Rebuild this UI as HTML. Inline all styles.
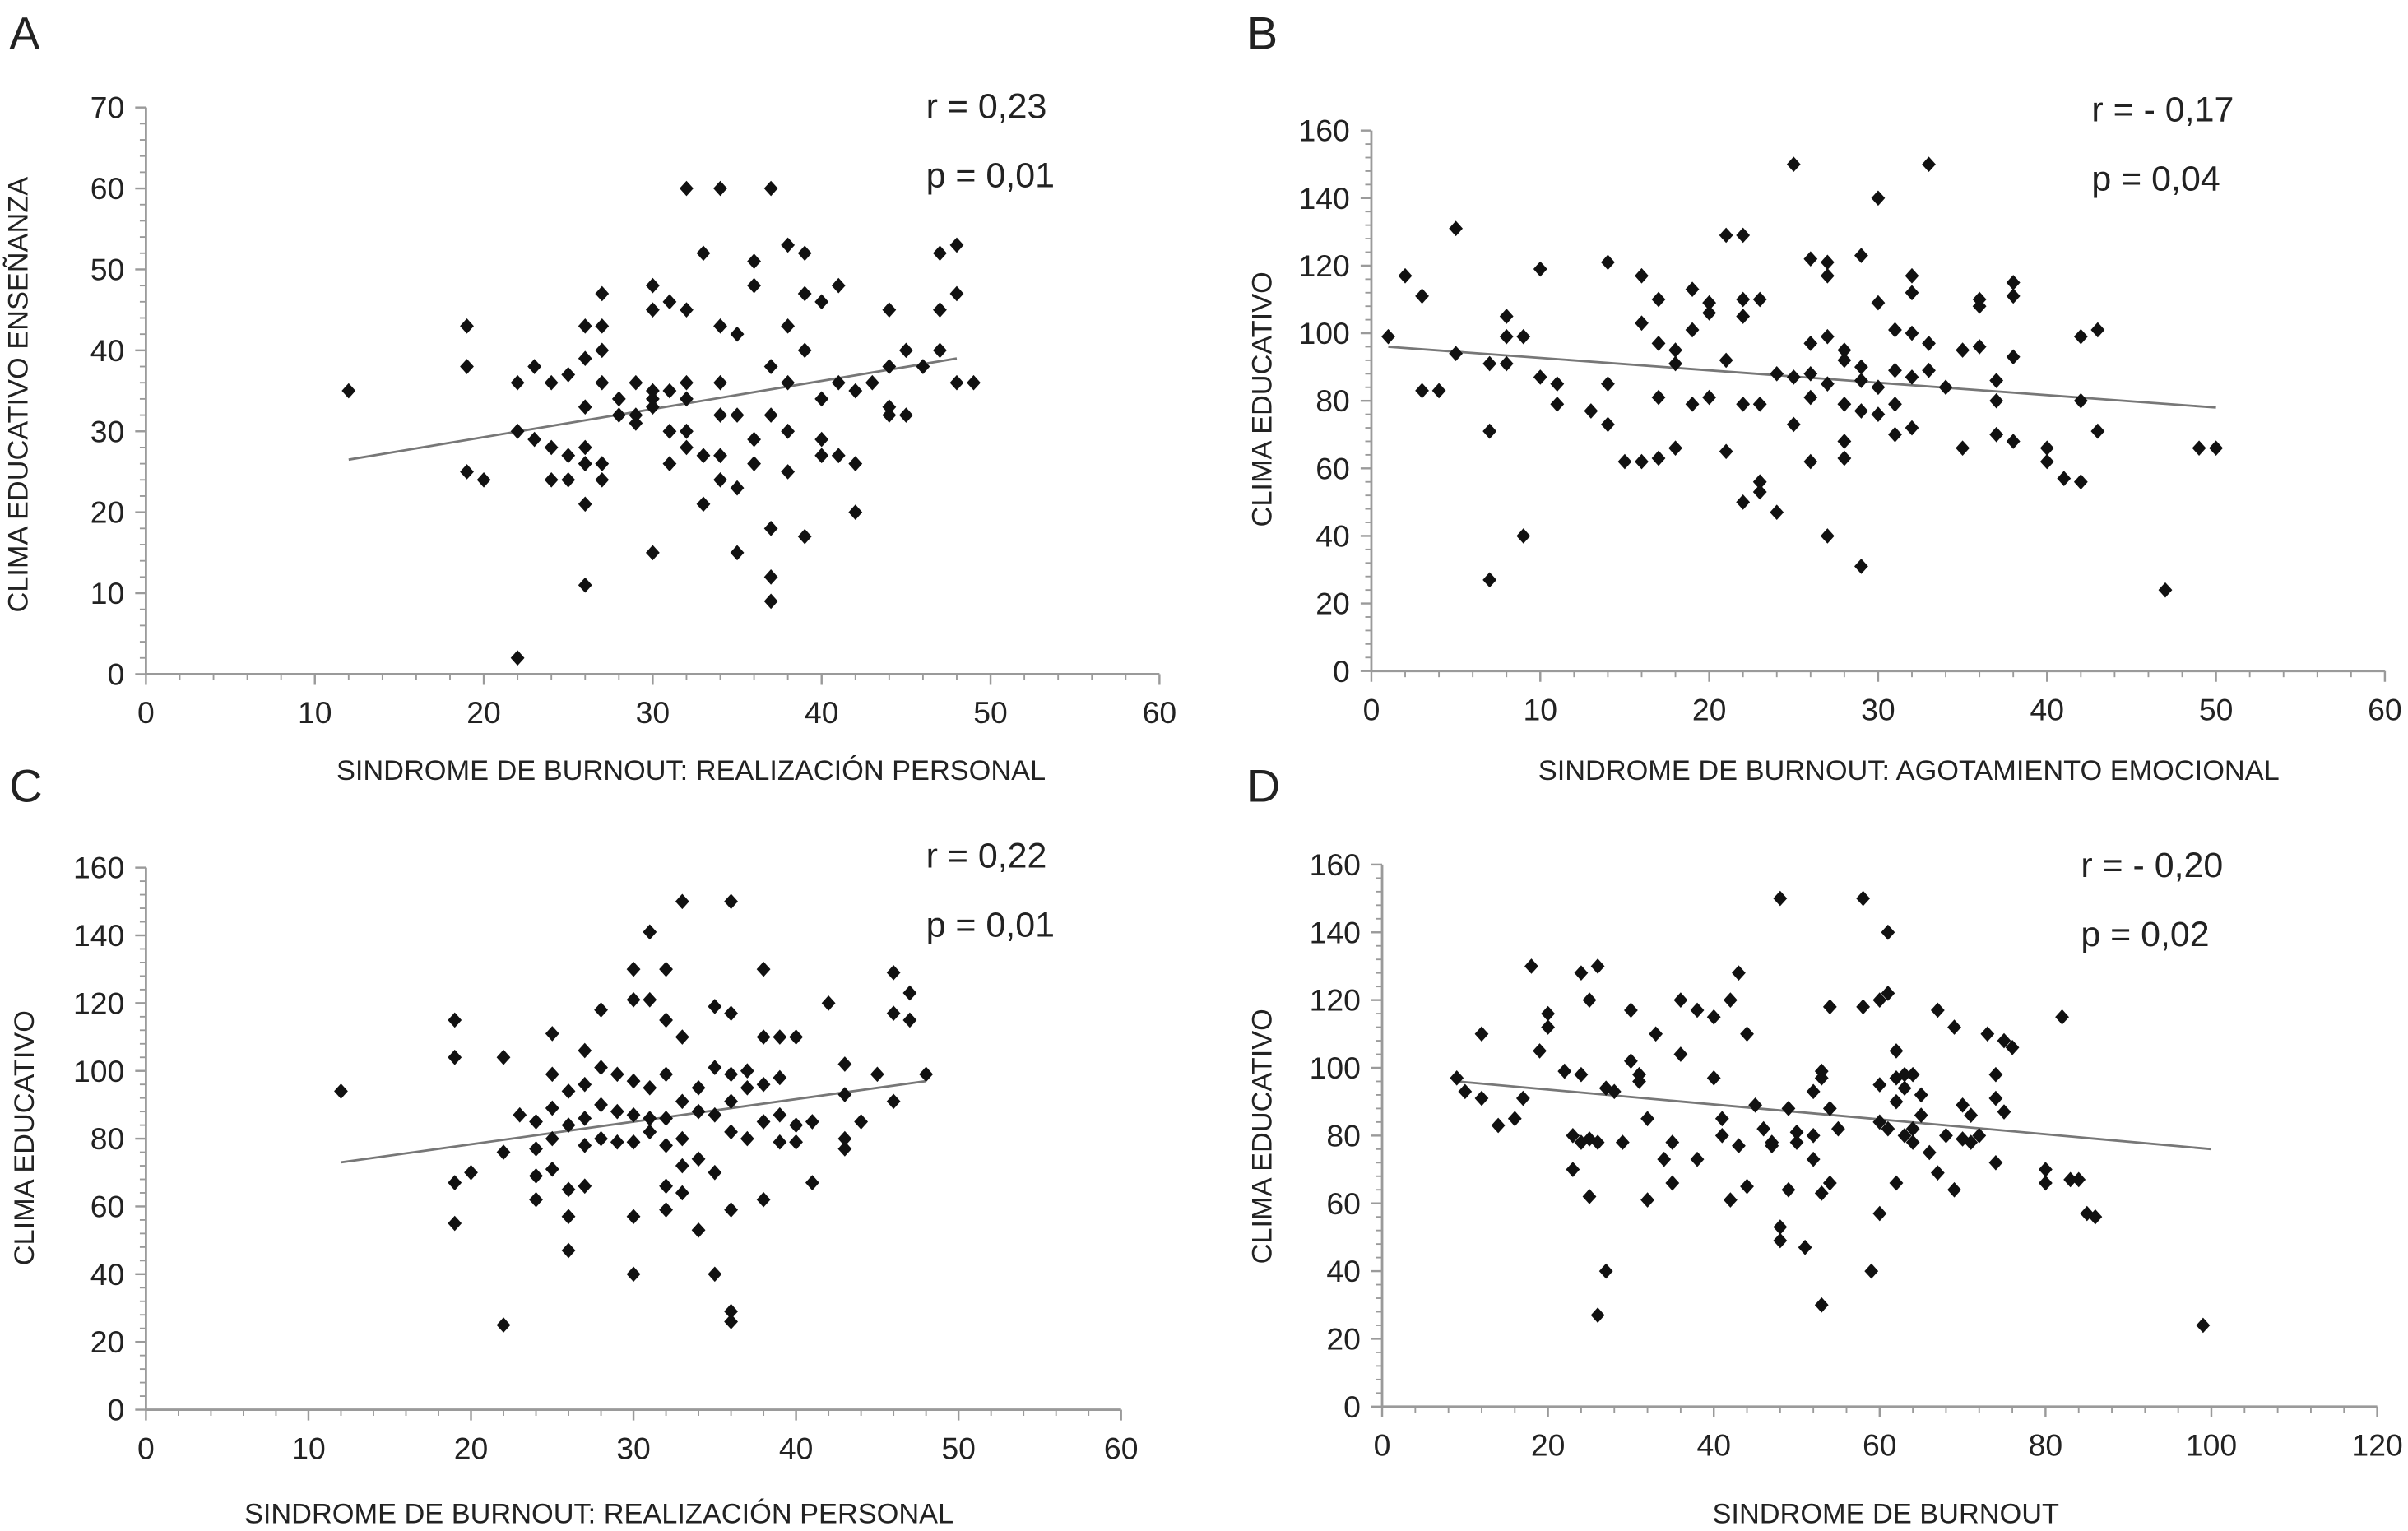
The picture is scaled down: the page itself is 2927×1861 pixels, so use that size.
<!DOCTYPE html>
<html><head><meta charset="utf-8"><style>
html,body{margin:0;padding:0;background:#fff}
svg{display:block}
text{font-family:"Liberation Sans",Arial,sans-serif;fill:#222}
</style></head><body>
<svg id="fig" width="2927" height="1861" viewBox="0 0 1568 997" xmlns="http://www.w3.org/2000/svg">
<text x="6" y="32" font-size="30">A</text>
<text x="812" y="32" font-size="30">B</text>
<text x="6" y="522" font-size="30">C</text>
<text x="812" y="522" font-size="30">D</text>
</svg>
<script>
// Panel A
const aX=[12,19,19,19,20,22,22,22,23,23,24,24,24,25,25,25,26,26,26,26,26,26,26,27,27,27,27,27,27,26,28,28,29,29,29,30,30,30,30,30,30,31,31,31,31,32,32,32,32,32,32,33,33,33,34,34,34,34,34,34,35,35,35,36,36,36,36,35,37,37,37,37,37,37,38,38,38,38,38,39,39,39,39,40,40,40,40,41,41,41,42,42,42,43,44,44,44,44,45,45,46,47,47,47,48,48,48,49];
const aY=[35,43,38,25,24,2,30,36,38,29,28,24,36,37,27,24,43,39,33,28,26,26,11,43,40,47,36,26,24,21,34,32,36,32,31,45,48,35,34,33,15,46,35,30,26,60,45,36,34,30,28,52,27,21,60,43,36,32,27,24,42,32,23,51,48,29,26,15,60,38,32,18,12,9,53,43,36,30,25,52,47,40,17,46,34,29,27,48,36,27,26,20,35,36,45,38,33,32,40,32,38,52,45,40,53,47,36,36];
const aLine=[[12,26.5],[48,39]];
const aXTicks=[0,10,20,30,40,50,60];
const aYTicks=[0,10,20,30,40,50,60,70];
// Panel B
const bX=[1,2,3,3,4,5,5,7,7,7,8,8,8,9,9,10,10,11,11,13,14,14,14,15,16,16,16,17,17,17,17,18,18,18,19,19,19,20,20,20,21,21,21,22,22,22,22,22,23,23,23,23,24,24,25,25,25,26,26,26,26,26,27,27,27,27,27,28,28,28,28,28,29,29,29,29,29,30,30,30,30,31,31,31,31,32,32,32,32,32,33,33,33,34,35,35,36,36,36,37,37,37,38,38,38,38,40,40,41,42,42,42,43,43,47,49,50];
const bY=[99,117,111,83,83,131,94,91,71,27,105,99,91,99,40,119,87,85,79,77,121,85,73,62,117,103,62,110,97,81,63,95,91,66,113,101,79,109,106,81,129,65,92,129,110,105,79,50,110,79,56,53,88,47,150,87,73,122,97,88,81,62,121,117,99,85,40,95,92,79,68,63,123,90,86,77,31,140,109,84,76,101,89,79,70,117,112,100,87,72,150,97,89,84,95,66,110,108,96,86,80,70,115,111,93,68,66,62,57,99,80,56,101,71,24,66,66];
const bLine=[[1,96],[50,78]];
const bXTicks=[0,10,20,30,40,50,60];
const bYTicks=[0,20,40,60,80,100,120,140,160];
// Panel C
const cX=[12,19,19,19,19,20,22,22,22,23,24,24,24,24,25,25,25,25,25,26,26,26,26,26,27,27,27,27,27,28,28,28,28,29,29,29,30,30,30,30,30,30,30,31,31,31,31,31,32,32,32,32,32,32,32,33,33,33,33,33,33,34,34,34,34,35,35,35,35,35,36,36,36,36,36,36,36,36,37,37,37,38,38,38,38,38,39,39,39,39,40,40,40,41,41,42,43,43,43,43,44,45,46,46,46,47,47,48];
const cY=[94,115,104,67,55,70,104,76,25,87,85,77,69,62,111,99,89,80,71,94,84,65,57,47,106,96,86,78,66,118,101,90,80,99,88,79,130,121,97,87,79,57,40,141,121,95,86,82,130,115,99,86,78,66,59,150,110,91,80,72,64,95,88,74,53,119,101,87,70,40,150,117,99,91,82,59,29,26,100,95,80,130,110,96,85,62,110,98,87,79,110,84,79,85,67,120,102,93,80,77,85,99,129,117,91,123,115,99];
const cLine=[[12,73],[48,97]];
const cXTicks=[0,10,20,30,40,50,60];
const cYTicks=[0,20,40,60,80,100,120,140,160];
// Panel D
const dX=[9,10,12,12,14,16,17,18,19,20,20,22,23,23,24,24,24,25,25,25,26,26,27,27,26,28,29,30,30,31,31,32,32,33,34,35,35,36,36,38,38,40,40,41,41,42,42,43,43,44,44,45,46,47,47,48,48,48,49,49,50,50,51,52,52,52,53,53,53,53,54,54,54,55,58,58,59,60,60,60,60,61,61,61,62,62,62,62,63,63,63,64,64,64,65,65,66,67,67,68,69,69,70,70,71,71,72,73,74,74,74,75,75,76,80,80,82,83,84,85,86,99];
const dY=[97,93,110,91,83,85,91,130,105,116,112,99,80,70,128,98,78,120,79,62,130,78,94,40,27,93,78,117,102,98,96,85,61,110,73,78,66,120,104,117,73,115,97,85,80,120,61,128,77,110,65,89,82,77,78,53,150,49,88,64,81,78,47,80,73,93,97,99,63,30,88,66,118,82,118,150,40,95,120,57,84,140,122,82,105,97,90,66,98,94,80,98,82,78,92,86,75,117,69,80,64,112,89,79,86,78,80,110,98,91,72,108,87,106,70,66,115,67,67,57,56,24];
const dLine=[[9,96],[100,76]];
const dXTicks=[0,20,40,60,80,100,120];
const dYTicks=[0,20,40,60,80,100,120,140,160];

const NS='http://www.w3.org/2000/svg';
const svg=document.getElementById('fig');
function mk(tag,attrs,parent){const e=document.createElementNS(NS,tag);for(const k in attrs)e.setAttribute(k,attrs[k]);(parent||svg).appendChild(e);return e;}

function panel(id,cfg,xs,ys,line,xt,yt){
  const g=mk('g',{});
  
  
  const xmin=xt[0],xmax=xt[xt.length-1],ymin=yt[0],ymax=yt[yt.length-1];
  const sx=v=>cfg.x0+(v-xmin)/(xmax-xmin)*(cfg.x1-cfg.x0);
  const sy=v=>cfg.y0-(v-ymin)/(ymax-ymin)*(cfg.y0-cfg.y1);
  const ax='#9a9a9a';
  const xa=mk('line',{x1:cfg.x0,y1:cfg.y0,x2:cfg.x1,y2:cfg.y0,stroke:ax,'stroke-width':1.5},g);
  
  
  const ya=mk('line',{x1:cfg.x0,y1:cfg.y0,x2:cfg.x0,y2:cfg.y1,stroke:ax,'stroke-width':1.5},g);
  
  
  for(let i=0;i<xt.length;i++){
    const px=sx(xt[i]);
    mk('line',{x1:px,y1:cfg.y0,x2:px,y2:cfg.y0+7,stroke:ax,'stroke-width':1.3},g);
    if(i<xt.length-1){const step=(xt[i+1]-xt[i])/5;for(let k=1;k<5;k++){const p=sx(xt[i]+k*step);mk('line',{x1:p,y1:cfg.y0,x2:p,y2:cfg.y0+4,stroke:ax,'stroke-width':1},g);}}
    const t=mk('text',{x:px,y:cfg.y0+32,'font-size':20,'text-anchor':'middle'},g);
    t.textContent=xt[i];
    
    
  }
  for(let i=0;i<yt.length;i++){
    const py=sy(yt[i]);
    mk('line',{x1:cfg.x0-7,y1:py,x2:cfg.x0,y2:py,stroke:ax,'stroke-width':1.3},g);
    if(i<yt.length-1){const step=(yt[i+1]-yt[i])/5;for(let k=1;k<5;k++){const p=sy(yt[i]+k*step);mk('line',{x1:cfg.x0-4,y1:p,x2:cfg.x0,y2:p,stroke:ax,'stroke-width':1},g);}}
    const t=mk('text',{x:cfg.x0-14,y:py+7,'font-size':20,'text-anchor':'end'},g);
    t.textContent=yt[i];
    
    
  }
  const rl=mk('line',{x1:sx(line[0][0]),y1:sy(line[0][1]),x2:sx(line[1][0]),y2:sy(line[1][1]),stroke:'#777','stroke-width':1.5},g);
  
  
  for(let i=0;i<xs.length;i++){
    const px=sx(xs[i]),py=sy(ys[i]);
    const p=mk('path',{d:`M${px} ${py-5}L${px+4.5} ${py}L${px} ${py+5}L${px-4.5} ${py}Z`,fill:'#111'},g);
    
    
  }
  const xtT=mk('text',{x:cfg.xtx,y:cfg.xty,'font-size':18.4,'text-anchor':'middle'},g);
  xtT.textContent=cfg.xtitle;
  
  
  const ytT=mk('text',{x:0,y:0,'font-size':18.4,'text-anchor':'middle',transform:`translate(${cfg.ytx},${cfg.yty}) rotate(-90)`},g);
  ytT.textContent=cfg.ytitle;
  
  
  const r=mk('text',{x:cfg.sx,y:cfg.sy,'font-size':23},g);
  r.textContent=cfg.r;
  
  
  const p=mk('text',{x:cfg.sx,y:cfg.sy+45,'font-size':23},g);
  p.textContent=cfg.p;
  
  
}
panel('a',{x0:95,x1:755,y0:439,y1:70,xtx:450,xty:508,ytx:18,yty:257,xtitle:'SINDROME DE BURNOUT: REALIZACIÓN PERSONAL',ytitle:'CLIMA EDUCATIVO ENSEÑANZA',r:'r = 0,23',p:'p = 0,01',sx:603,sy:77},aX,aY,aLine,aXTicks,aYTicks);
panel('b',{x0:893,x1:1553,y0:437,y1:85,xtx:1243,xty:508,ytx:828,yty:260,xtitle:'SINDROME DE BURNOUT: AGOTAMIENTO EMOCIONAL',ytitle:'CLIMA EDUCATIVO',r:'r = - 0,17',p:'p = 0,04',sx:1362,sy:79},bX,bY,bLine,bXTicks,bYTicks);
panel('c',{x0:95,x1:730,y0:918,y1:565,xtx:390,xty:992,ytx:22,yty:741,xtitle:'SINDROME DE BURNOUT: REALIZACIÓN PERSONAL',ytitle:'CLIMA EDUCATIVO',r:'r = 0,22',p:'p = 0,01',sx:603,sy:565},cX,cY,cLine,cXTicks,cYTicks);
panel('d',{x0:900,x1:1548,y0:916,y1:563,xtx:1228,xty:992,ytx:828,yty:740,xtitle:'SINDROME DE BURNOUT',ytitle:'CLIMA EDUCATIVO',r:'r = - 0,20',p:'p = 0,02',sx:1355,sy:571},dX,dY,dLine,dXTicks,dYTicks);
</script>
</body></html>
